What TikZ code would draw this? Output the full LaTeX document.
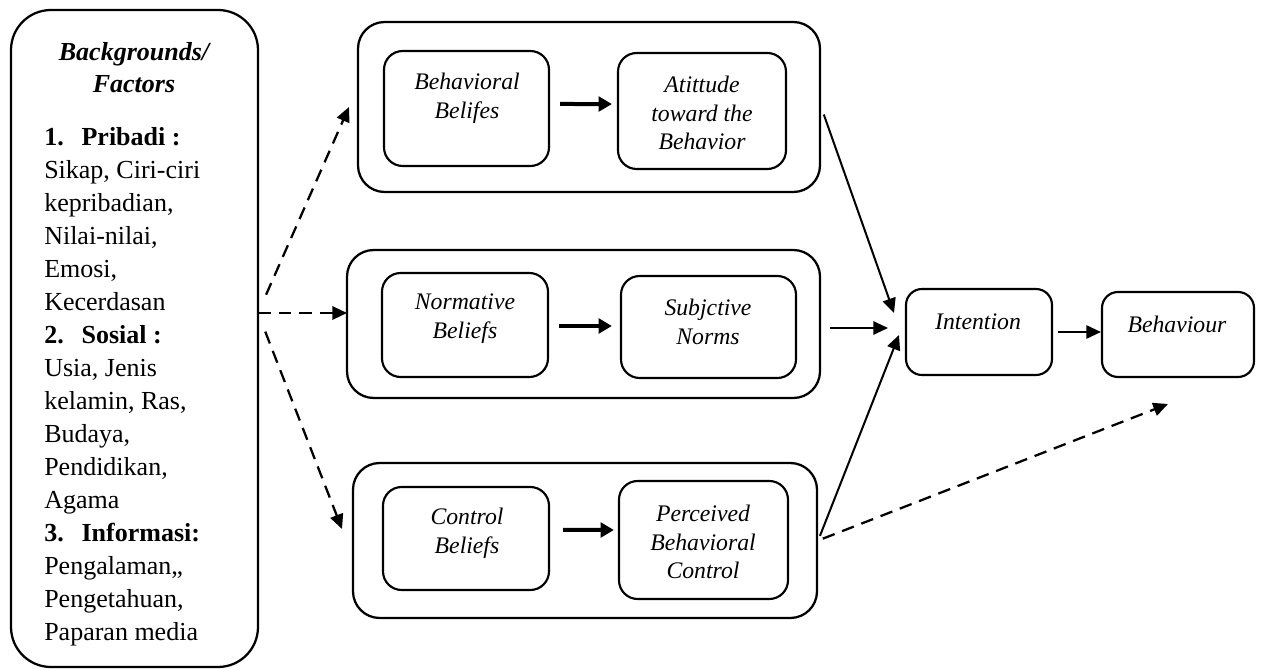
\documentclass[tikz,border=0pt]{standalone}
\usepackage{fontspec}
\setmainfont{Liberation Serif}
\usetikzlibrary{arrows.meta}

\newcommand{\itemnum}[1]{\makebox[28pt][l]{\textbf{#1}}}

\tikzset{
  wh/.style 2 args={minimum width=#1*0.75pt, minimum height=#2*0.75pt},
  bigbox/.style={draw, line width=1.7pt, rounded corners=20pt, inner sep=0pt},
  smallbox/.style={draw, line width=1.6pt, rounded corners=14pt, inner sep=0pt},
  boxtext/.style={align=center, inner sep=0pt, font=\fontsize{17.8}{21.5}\selectfont\itshape},
  link/.style={line width=1.5pt, -{Triangle[length=11pt,width=10pt]}},
  thicklink/.style={line width=3pt, -{Triangle[length=10pt,width=11pt]}},
  dashlink/.style={line width=1.7pt, dash pattern=on 9.5pt off 6pt, -{Triangle[length=11pt,width=10pt]}},
}

\begin{document}
\begin{tikzpicture}[x=0.75pt, y=-0.75pt]
  \useasboundingbox (0,0) rectangle (1261,670);

  % backgrounds / factors
  \node (bg) at (134.5,338.5) [bigbox, rounded corners=30pt, wh={247}{657}] {};
  \node (bghead) at (134,42) [anchor=north, align=center, inner sep=0pt,
    font=\fontsize{19.5}{24}\selectfont\bfseries\itshape] {Backgrounds/\\Factors};
  \node (bglist) at (44,127) [anchor=north west, align=left, inner sep=0pt,
    font=\fontsize{19.5}{24.75}\selectfont] {%
    \itemnum{1.}\textbf{Pribadi :}\\
    Sikap, Ciri-ciri\\
    kepribadian,\\
    Nilai-nilai,\\
    Emosi,\\
    Kecerdasan\\
    \itemnum{2.}\textbf{Sosial :}\\
    Usia, Jenis\\
    kelamin, Ras,\\
    Budaya,\\
    Pendidikan,\\
    Agama\\
    \itemnum{3.}\textbf{Informasi:}\\
    Pengalaman,,\\
    Pengetahuan,\\
    Paparan media};

  % three groups
  \node (att) at (589,107) [bigbox, wh={462}{170}] {};
  \node (norm) at (583.5,324) [bigbox, wh={473}{148}] {};
  \node (ctrl) at (585,540.5) [bigbox, wh={464}{155}] {};

  \node (bb) at (466.5,108.5) [smallbox, wh={165}{115}] {};
  \node (ab) at (702,111) [smallbox, wh={168}{116}] {};
  \node (nb) at (465,325) [smallbox, wh={166}{104}] {};
  \node (sn) at (708.5,327) [smallbox, wh={175}{102}] {};
  \node (cb) at (466,538.5) [smallbox, wh={166}{103}] {};
  \node (pbc) at (703.5,540) [smallbox, wh={169}{118}] {};

  \node (bbtext) at (467,98) [boxtext] {Behavioral\\Belifes};
  \node (abtext) at (702,113) [boxtext] {Atittude\\toward the\\Behavior};
  \node (nbtext) at (465,319) [boxtext] {Normative\\Beliefs};
  \node (sntext) at (708,322) [boxtext] {Subjctive\\Norms};
  \node (cbtext) at (467,533) [boxtext] {Control\\Beliefs};
  \node (pbctext) at (703,542) [boxtext] {Perceived\\Behavioral\\Control};

  % intention and behaviour
  \node (int) at (979,332) [smallbox, rounded corners=12pt, wh={146}{86}] {};
  \node (beh) at (1178,334.5) [smallbox, rounded corners=12pt, wh={152}{85}] {};
  \node (inttext) at (978,322) [boxtext] {Intention};
  \node (behtext) at (1177,324) [boxtext] {Behaviour};

  % free arrow ends
  \coordinate (fork) at (258,313);
  \coordinate (upTip) at (349,107);
  \coordinate (midTip) at (347,313);
  \coordinate (downTip) at (342,529);
  \coordinate (inTop) at (894,313);
  \coordinate (inMid) at (888,328);
  \coordinate (inBot) at (899,335);
  \coordinate (behTip) at (1168,404);

  % dashed links from the backgrounds
  \draw[dashlink, shorten <=20*0.75pt] (fork) -- (upTip);
  \draw[dashlink] (fork) -- (midTip);
  \draw[dashlink, shorten <=20*0.75pt] (fork) -- (downTip);

  % inside the groups
  \draw[thicklink, shorten <=10*0.75pt, shorten >=5*0.75pt] ([yshift=3.4pt]bb.east) -- ([yshift=5.2pt]ab.west);
  \draw[thicklink, shorten <=10*0.75pt, shorten >=8*0.75pt] ([yshift=-0.75pt]nb.east) -- ([yshift=0.75pt]sn.west);
  \draw[thicklink, shorten <=13*0.75pt, shorten >=4*0.75pt] ([yshift=6.4pt]cb.east) -- ([yshift=7.5pt]pbc.west);

  % to intention and behaviour
  \draw[link, shorten <=8*0.75pt] (att.east) -- (inTop);
  \draw[link, shorten <=9*0.75pt] (norm.east |- inMid) -- (inMid);
  \draw[link, shorten <=5*0.75pt] (ctrl.east) -- (inBot);
  \draw[dashlink, shorten <=5*0.75pt] (ctrl.east) -- (behTip);
  \draw[link, shorten <=5*0.75pt] (int.east) -- (int.east -| beh.west);
\end{tikzpicture}
\end{document}
